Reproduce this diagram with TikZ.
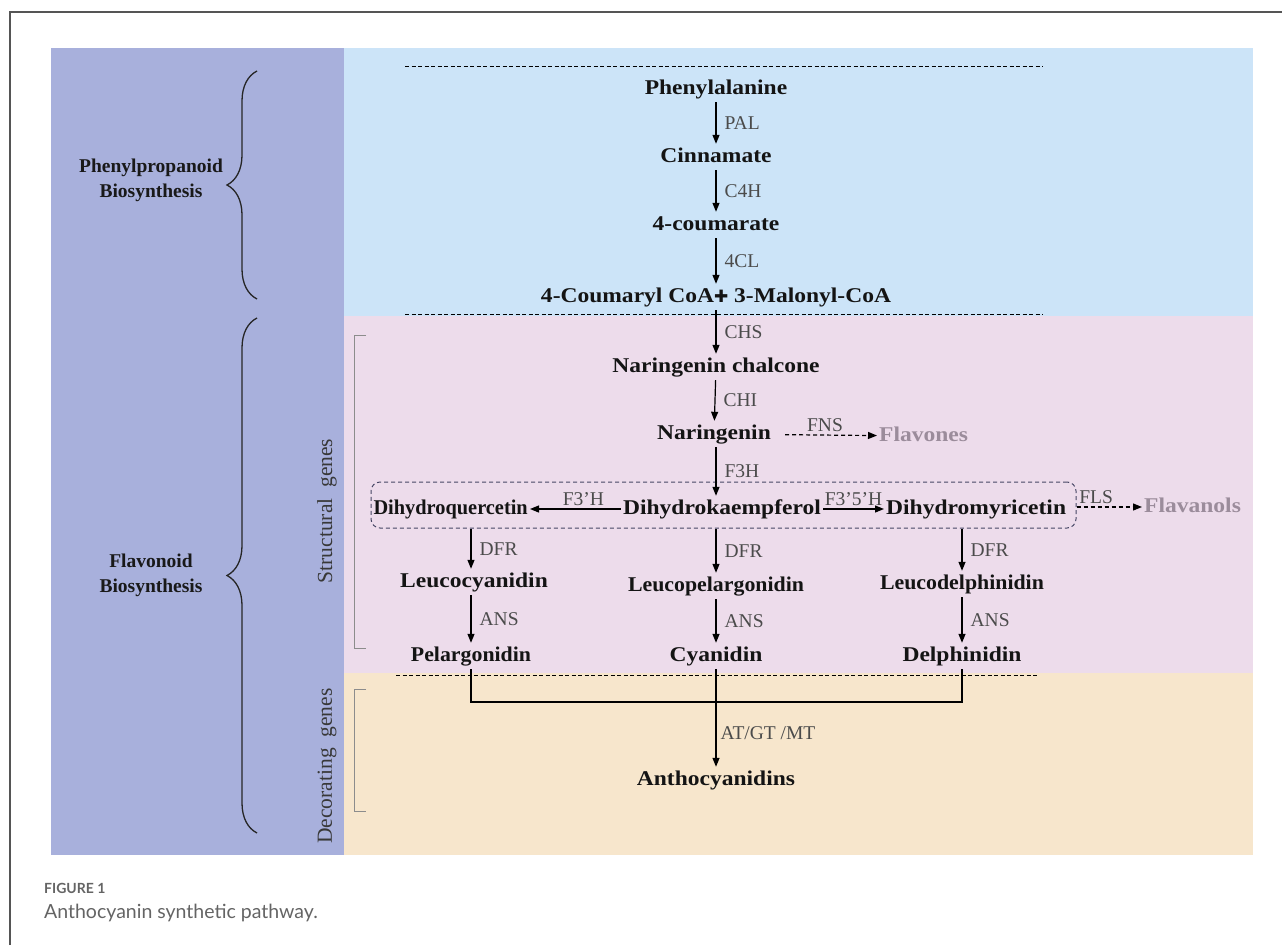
\documentclass[tikz,border=0pt]{standalone}
\usepackage{fontspec}
\setmainfont{Liberation Serif}
\newfontfamily\molf{Liberation Serif}[FakeStretch=1.12]
\newfontfamily\molk{Liberation Serif}[FakeStretch=1.04]
\newfontfamily\molq{Liberation Serif}[FakeStretch=0.97]
\newfontfamily\dvs{DejaVu Sans}
\newfontfamily\capf{Lato}
\usetikzlibrary{arrows.meta,decorations.pathreplacing}
\definecolor{purp}{RGB}{168,176,220}
\definecolor{bluep}{RGB}{204,228,248}
\definecolor{pinkp}{RGB}{237,220,235}
\definecolor{beigep}{RGB}{247,230,204}
\definecolor{enzc}{RGB}{75,75,75}
\definecolor{fadec}{RGB}{155,140,155}
\definecolor{boxc}{RGB}{70,70,100}
\definecolor{capc}{RGB}{100,100,100}
\definecolor{framec}{RGB}{85,85,85}
\begin{document}
\begin{tikzpicture}[x=1pt,y=-1pt,
  mol/.style={font=\molf\bfseries\fontsize{21}{23}\selectfont, text=black!92, inner xsep=2pt, inner ysep=4pt, text height=14pt, text depth=4pt},
  molN/.style={mol, font=\molk\bfseries\fontsize{21}{23}\selectfont},
  side/.style={font=\bfseries\fontsize{19.5}{25}\selectfont, text=black!90, align=center},
  rot/.style={font=\fontsize{21.5}{24}\selectfont, text=black!78, rotate=90},
  enz/.style={font=\fontsize{19.5}{21}\selectfont, text=enzc, anchor=west, xshift=7pt, inner sep=1pt},
  enzA/.style={font=\fontsize{19.5}{21}\selectfont, text=enzc, above, inner sep=3pt},
  arr/.style={-{Triangle[length=9pt,width=7pt]}, line width=1.2pt, black},
  darr/.style={-{Triangle[length=9pt,width=7pt]}, line width=1.2pt, black, dash pattern=on 4pt off 3pt},
  lin/.style={line width=1.2pt, black},
  sep/.style={line width=1pt, black, dash pattern=on 4pt off 2.5pt},
  dbox/.style={draw=boxc, line width=1pt, dash pattern=on 4pt off 3pt, rounded corners=9pt},
  brc/.style={line width=1.3pt, black!85, decorate, decoration={brace, amplitude=30pt}},
  brk/.style={line width=0.8pt, black!45}]
\useasboundingbox (0,0) rectangle (1282,945);
% frame
\draw[framec, line width=1.3pt] (10,945) -- (10,12) -- (1282,12);
% panels
\fill[purp] (51,48) rectangle (344,855);
\fill[bluep] (344,48) rectangle (1253,316);
\fill[pinkp] (344,316) rectangle (1253,673);
\fill[beigep] (344,673) rectangle (1253,855);
% dashed separators
\draw[sep] (405,66) -- (1043,66);
\draw[sep] (405,314) -- (1043,314);
\draw[sep] (396,675) -- (1037,675);
% braces and side labels
\draw[brc] (257,299) -- (257,71);
\draw[brc] (257,833) -- (257,318);
\node[side] (pp) at (151,180) {Phenylpropanoid\\Biosynthesis};
\node[side] (fb) at (151,575) {Flavonoid\\Biosynthesis};
\draw[brk] (366,335) -- (354,335) -- (354,648) -- (366,648);
\draw[brk] (366,689) -- (354,689) -- (354,811) -- (366,811);
\node[rot] (sg) at (327,511) {Structural~~genes};
\node[rot] (dg) at (327,766) {Decorating~~genes};
% molecules
\node[mol] (phe) at (716,89) {Phenylalanine};
\node[mol] (cin) at (716,157) {Cinnamate};
\node[mol] (cou) at (716,225) {4-coumarate};
\node[mol] (coa) at (716,297) {4-Coumaryl CoA{\dvs\bfseries\fontsize{17}{20}\selectfont ✚} 3-Malonyl-CoA};
\node[mol] (nch) at (716,367) {Naringenin chalcone};
\node[mol] (nar) at (714,434) {Naringenin};
\node[mol, text=fadec, anchor=west] (fvn) at (877,436) {Flavones};
\node[dbox, minimum width=705pt, minimum height=46pt] (box) at (723.5,505) {};
\node[mol] (dhk) at (722,509) {Dihydrokaempferol};
\node[mol, font=\molq\bfseries\fontsize{21}{23}\selectfont, anchor=east] (dhq) at (530,509) {Dihydroquercetin};
\node[mol, anchor=west] (dhm) at (884,509) {Dihydromyricetin};
\node[mol, text=fadec, anchor=west] (fvl) at (1142,507) {Flavanols};
\node[mol] (lcy) at (474,582) {Leucocyanidin};
\node[molN] (lpe) at (716,586) {Leucopelargonidin};
\node[molN] (lde) at (962,584) {Leucodelphinidin};
\node[molN] (pel) at (471,656) {Pelargonidin};
\node[mol] (cya) at (716,656) {Cyanidin};
\node[mol] (del) at (962,656) {Delphinidin};
\node[mol] (ant) at (716,780) {Anthocyanidins};
\coordinate (jn) at (716,702);
\coordinate (colc) at (716,509);
\coordinate (coll) at (471,582);
% connectors
\draw[arr] (phe) -- node[enz]{PAL} (cin);
\draw[arr] (cin) -- node[enz]{C4H} (cou);
\draw[arr] (cou) -- node[enz]{4CL} (coa);
\draw[arr] (coa) -- node[enz]{CHS} (nch);
\draw[arr] (nch) -- node[enz]{CHI} (nar);
\draw[darr, shorten <=12pt] (nar) -- node[enzA]{FNS} (fvn);
\draw[arr] (nar.south -| colc) -- node[enz]{F3H} (colc |- dhk.north);
\draw[arr] (dhk) -- node[enzA, xshift=8pt]{F3'H} (dhq);
\draw[arr] (dhk) -- node[enzA]{F3'5'H} (dhm);
\draw[darr] (box.east |- fvl) -- node[enzA, pos=0.3]{FLS} (fvl);
\draw[arr] (box.south -| coll) -- node[enz]{DFR} (coll |- lcy.north);
\draw[arr] (box.south -| lpe) -- node[enz]{DFR} (lpe);
\draw[arr] (box.south -| lde) -- node[enz]{DFR} (lde);
\draw[arr] (coll |- lcy.south) -- node[enz]{ANS} (pel);
\draw[arr] (lpe) -- node[enz]{ANS} (cya);
\draw[arr] (lde) -- node[enz]{ANS} (del);
\draw[lin] (pel.south) -- (pel.south |- jn) -- (del.south |- jn) -- (del.south);
\draw[arr] (cya) -- node[enz, pos=0.65, xshift=-4pt]{AT/GT /MT} (ant);
% caption
\node[anchor=base west, font=\capf\bfseries\fontsize{14}{16}\selectfont, text=capc, inner sep=0pt] (fig) at (44,893) {FIGURE 1};
\node[anchor=base west, font=\capf\fontsize{19.5}{22}\selectfont, text=capc, inner sep=0pt] (cap) at (44,918) {Anthocyanin synthetic pathway.};
\end{tikzpicture}
\end{document}
